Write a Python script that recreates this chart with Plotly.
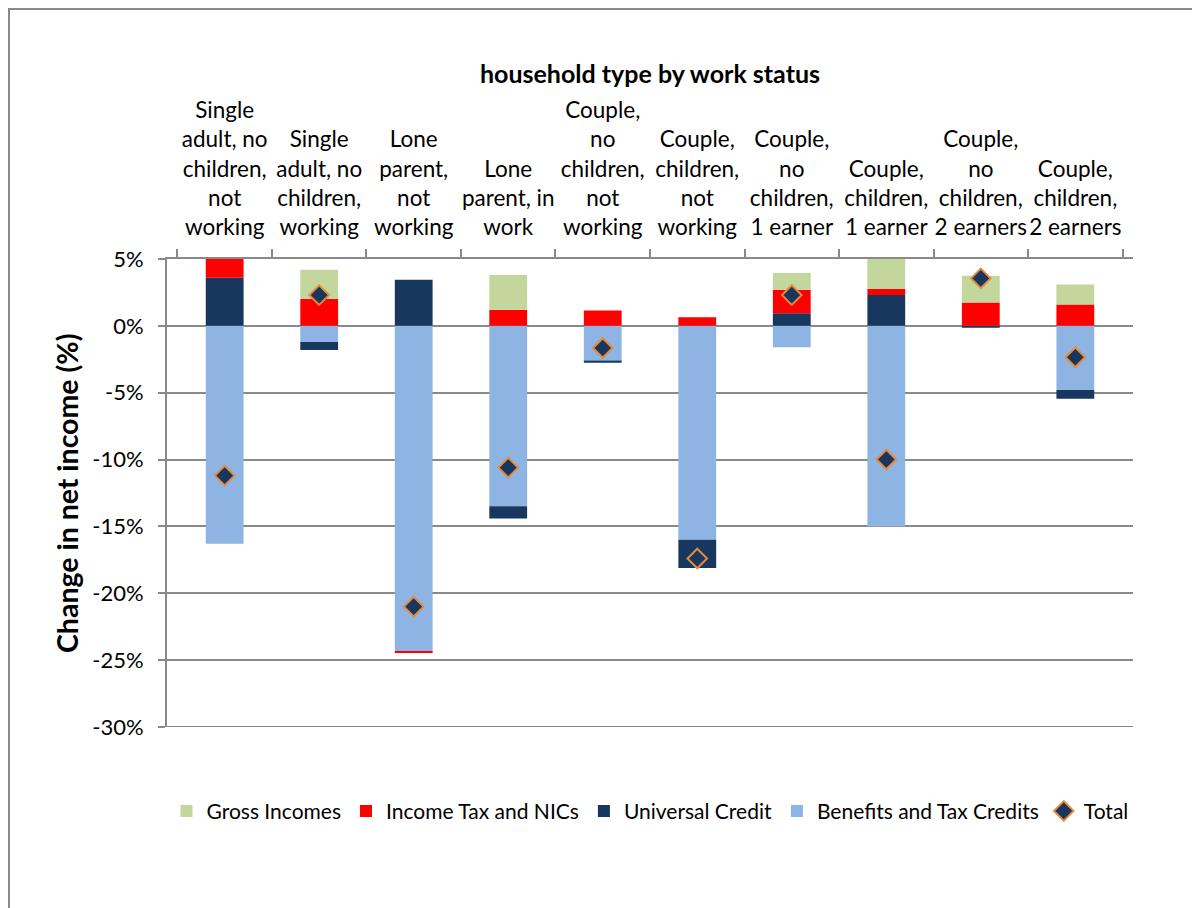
"""
Change in net income by household type and work status
"""

import plotly.graph_objects as go

# household types (category axis, shown on top)
categories = [
    "Single<br>adult, no<br>children,<br>not<br>working",
    "Single<br>adult, no<br>children,<br>working",
    "Lone<br>parent,<br>not<br>working",
    "Lone<br>parent, in<br>work",
    "Couple,<br>no<br>children,<br>not<br>working",
    "Couple,<br>children,<br>not<br>working",
    "Couple,<br>no<br>children,<br>1 earner",
    "Couple,<br>children,<br>1 earner",
    "Couple,<br>no<br>children,<br>2 earners",
    "Couple,<br>children,<br>2 earners",
]

# components of the change in net income (%)
gross_incomes = [0.0, 2.2, 0.0, 2.6, 0.0, 0.0, 1.25, 2.25, 2.0, 1.5]
income_tax_nics = [1.5, 2.0, -0.1, 1.2, 1.15, 0.65, 1.75, 0.45, 1.75, 1.6]
universal_credit = [3.6, -0.6, 3.45, -0.9, -0.15, -2.1, 0.95, 2.3, -0.15, -0.65]
benefits_tax_credits = [-16.3, -1.2, -24.35, -13.5, -2.6, -16.0, -1.6, -15.0, 0.0, -4.8]
total = [-11.2, 2.3, -21.0, -10.6, -1.65, -17.4, 2.3, -10.0, 3.55, -2.35]

y_ticks = [5, 0, -5, -10, -15, -20, -25, -30]

FONT = "Lato"
GRID = "#898989"

# page body adds an 8px offset, so the figure is 8px smaller than the window
W, H = 1192, 900
ML, MT, MR, MB = 159, 251, 67, 181
PW, PH = W - ML - MR, H - MT - MB

fig = go.Figure()

# trace order controls stacking: benefits nearest zero, then UC, tax, gross
series = [
    ("Benefits and Tax Credits", benefits_tax_credits, "#8EB4E3", 4),
    ("Universal Credit", universal_credit, "#17375E", 3),
    ("Income Tax and NICs", income_tax_nics, "#FF0000", 2),
    ("Gross Incomes", gross_incomes, "#C3D69B", 1),
]
for name, vals, color, rank in series:
    fig.add_trace(go.Bar(
        x=categories,
        y=vals,
        name=name,
        marker=dict(color=color, line=dict(width=0)),
        width=0.4,
        legendrank=rank,
    ))

fig.add_trace(go.Scatter(
    x=categories,
    y=total,
    mode="markers",
    name="Total",
    marker=dict(symbol="diamond", size=15, color="#17375E",
                line=dict(color="#E8893A", width=2)),
    legendrank=5,
))

fig.update_layout(
    barmode="relative",
    width=W,
    height=H,
    margin=dict(l=ML, r=MR, t=MT, b=MB),
    paper_bgcolor="white",
    plot_bgcolor="white",
    font=dict(family=FONT, size=22, color="black"),
    title=dict(
        text="<b>household type by work status</b>",
        x=0.5, xref="paper", xanchor="center",
        y=1 - 66 / H, yref="container", yanchor="middle",
        font=dict(family=FONT, size=25, color="black"),
    ),
    showlegend=True,
    legend=dict(
        orientation="h",
        x=0.5, xanchor="center",
        y=-0.18, yanchor="middle",
        font=dict(family=FONT, size=21),
        itemwidth=30,
        traceorder="normal",
    ),
    xaxis=dict(
        side="top",
        type="category",
        showline=True, linecolor=GRID, linewidth=2,
        ticks="outside", tickson="boundaries", ticklen=8,
        tickcolor=GRID, tickwidth=2,
        tickangle=0,
        ticklabelstandoff=13,
        tickfont=dict(family=FONT, size=22.5),
        showgrid=False,
    ),
    yaxis=dict(
        range=[-30, 5],
        tickvals=y_ticks,
        ticktext=[f"{v}%" for v in y_ticks],
        showline=True, linecolor=GRID, linewidth=2,
        ticks="outside", ticklen=7, tickcolor=GRID, tickwidth=2,
        ticklabelstandoff=10,
        showgrid=True, gridcolor=GRID, gridwidth=2,
        zeroline=True, zerolinecolor=GRID, zerolinewidth=2,
        tickfont=dict(family=FONT, size=22),
    ),
    annotations=[dict(
        text="<b>Change in net income (%)</b>",
        textangle=-90,
        xref="paper", yref="paper",
        x=(59 - ML) / PW, y=0.5,
        xanchor="center", yanchor="middle",
        showarrow=False,
        font=dict(family=FONT, size=28.5, color="black"),
    )],
    shapes=[
        # outer chart border
        dict(
            type="rect", xref="paper", yref="paper",
            x0=(1 - ML) / PW, x1=(W + 10 - ML) / PW,
            y0=(PH - (H + 10 - MT)) / PH, y1=(PH - (1 - MT)) / PH,
            line=dict(color=GRID, width=2),
            layer="below",
        ),
        # gridline at the bottom of the value range
        dict(
            type="line", xref="paper", yref="y",
            x0=0, x1=1, y0=y_ticks[-1], y1=y_ticks[-1],
            line=dict(color=GRID, width=2),
        ),
    ],
)

fig.write_html("out.html")
